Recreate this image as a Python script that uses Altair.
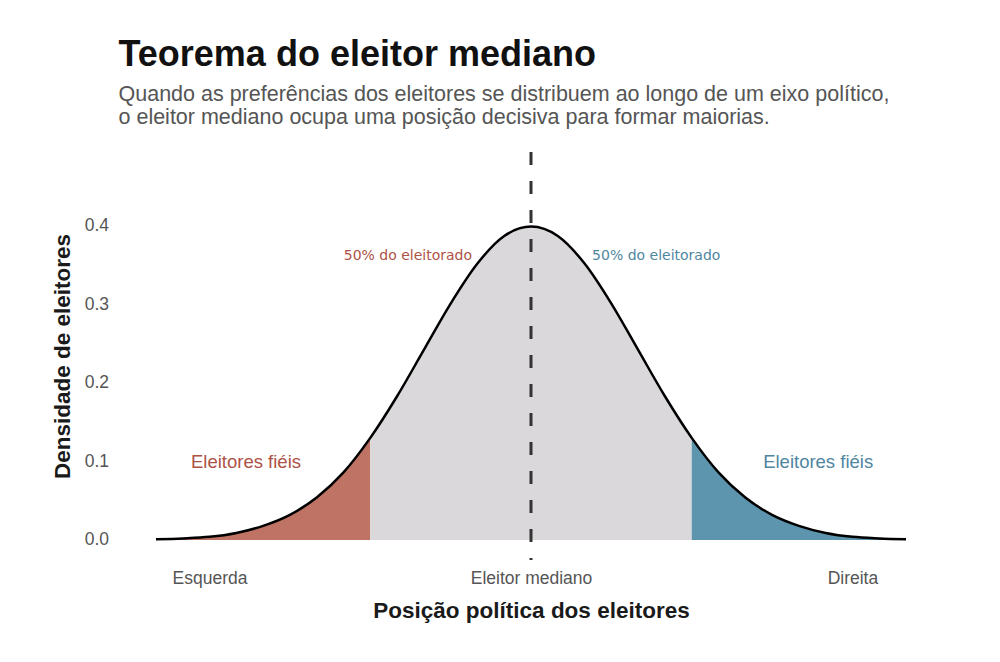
import altair as alt
import pandas as pd

# Posição política (eixo x) e densidade
xs = [-3.5, -3.25, -3.0, -2.75, -2.5, -2.25, -2.0, -1.75, -1.5, -1.25, -1.0, -0.75,
      -0.5, -0.25, 0.0, 0.25, 0.5, 0.75, 1.0, 1.25, 1.5, 1.75, 2.0, 2.25, 2.5,
      2.75, 3.0, 3.25, 3.5]
dens = [0.001, 0.002, 0.004, 0.009, 0.018, 0.032, 0.054, 0.086, 0.130, 0.183,
        0.242, 0.301, 0.352, 0.387, 0.399, 0.387, 0.352, 0.301, 0.242, 0.183,
        0.130, 0.086, 0.054, 0.032, 0.018, 0.009, 0.004, 0.002, 0.001]

left_cut = -1.5
right_cut = 1.5
regions = ["esquerda", "centro", "direita"]
region_colors = ["#bf7364", "#dad8db", "#5e95ae"]

tick_values = [-3, 0, 3]
tick_labels = ["Esquerda", "Eleitor mediano", "Direita"]

ann_text = ["50% do eleitorado", "50% do eleitorado", "Eleitores fiéis", "Eleitores fiéis"]
ann_x = [-0.55, 0.57, -2.66, 2.68]
ann_y = [0.362, 0.362, 0.099, 0.099]
ann_color = ["#ad5246", "#4f86a0", "#ad5246", "#4f86a0"]
ann_align = ["right", "left", "center", "center"]
ann_font = ["DejaVu Sans", "DejaVu Sans", "Liberation Sans", "Liberation Sans"]
ann_size = [14, 14, 18.5, 18.5]

rows = []
for x, d in zip(xs, dens):
    if x <= left_cut:
        rows.append({"x": x, "y": d, "regiao": "esquerda"})
    if left_cut <= x <= right_cut:
        rows.append({"x": x, "y": d, "regiao": "centro"})
    if x >= right_cut:
        rows.append({"x": x, "y": d, "regiao": "direita"})
area_df = pd.DataFrame(rows)
curve_df = pd.DataFrame({"x": xs, "y": dens})
ann_df = pd.DataFrame({"text": ann_text, "x": ann_x, "y": ann_y})

FONT = "Liberation Sans"
label_expr = " : ".join(
    [f"datum.value == {v} ? '{l}'" for v, l in zip(tick_values, tick_labels)]) + " : ''"

xscale = alt.Scale(domain=[-3.85, 3.85], nice=False, zero=False)
yscale = alt.Scale(domain=[-0.0255, 0.494], nice=False, zero=False)

xaxis = alt.Axis(values=tick_values, labelExpr=label_expr, title="Posição política dos eleitores",
                 domain=False, ticks=False, grid=False, labelFont=FONT, labelFontSize=17.5,
                 labelColor="#555555", labelPadding=9, titleFont=FONT, titleFontSize=22.5,
                 titleFontWeight=600, titleColor="#1a1a1a", titlePadding=13)
yaxis = alt.Axis(values=[0, 0.1, 0.2, 0.3, 0.4], format=".1f", title="Densidade de eleitores",
                 domain=False, ticks=False, grid=False, labelFont=FONT, labelFontSize=17.5,
                 labelColor="#555555", labelPadding=10, titleFont=FONT, titleFontSize=22.5,
                 titleFontWeight=600, titleColor="#1a1a1a", titlePadding=10)

area = alt.Chart(area_df).mark_area(interpolate="monotone").encode(
    x=alt.X("x:Q", scale=xscale, axis=xaxis),
    y=alt.Y("y:Q", scale=yscale, axis=yaxis, stack=None),
    color=alt.Color("regiao:N", scale=alt.Scale(domain=regions, range=region_colors), legend=None),
    detail="regiao:N",
)

line = alt.Chart(curve_df).mark_line(interpolate="monotone", color="black", strokeWidth=2.5).encode(
    x=alt.X("x:Q", scale=xscale), y=alt.Y("y:Q", scale=yscale))

vline = alt.Chart(pd.DataFrame({"x": [0]})).mark_rule(
    color="#333333", strokeWidth=3, strokeDash=[13, 16]).encode(
    x=alt.X("x:Q", scale=xscale), y=alt.value(0), y2=alt.value(408))

texts = []
for i in range(len(ann_text)):
    t = alt.Chart(ann_df.iloc[[i]]).mark_text(
        align=ann_align[i], baseline="middle", font=ann_font[i], fontSize=ann_size[i],
        fontWeight=500, color=ann_color[i]).encode(
        x=alt.X("x:Q", scale=xscale), y=alt.Y("y:Q", scale=yscale), text="text:N")
    texts.append(t)

chart = alt.layer(area, line, vline, *texts).properties(
    width=825, height=408,
    background="white",
    autosize=alt.AutoSizeParams(type="none"),
    padding={"left": 110.5, "top": 144, "right": 48, "bottom": 94},
    title=alt.TitleParams(
        text="Teorema do eleitor mediano",
        subtitle=["Quando as preferências dos eleitores se distribuem ao longo de um eixo político,",
                  "o eleitor mediano ocupa uma posição decisiva para formar maiorias."],
        anchor="start", frame="group", offset=21, font=FONT, fontSize=36, fontWeight="bold",
        color="#111111", subtitleFont=FONT, subtitleFontSize=21.5, subtitleColor="#555555",
        subtitleLineHeight=23, subtitlePadding=10),
).configure_view(stroke="transparent", strokeWidth=0)

chart.save("out.html", embed_options={"renderer": "svg", "actions": False})
